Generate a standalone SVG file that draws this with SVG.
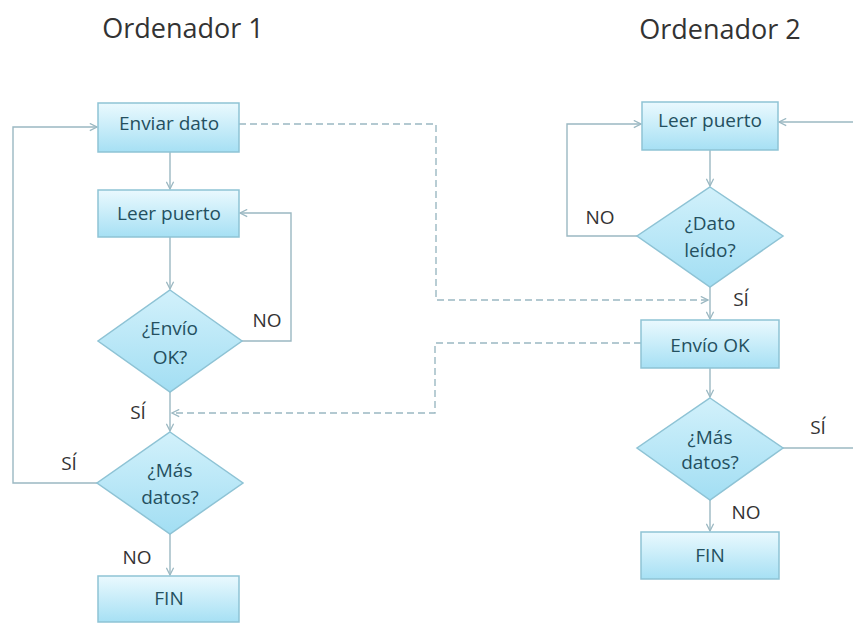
<svg xmlns="http://www.w3.org/2000/svg" width="853" height="624" viewBox="0 0 853 624">
  <defs>
    <linearGradient id="boxFill" x1="0" y1="0" x2="0" y2="1">
      <stop offset="0" stop-color="#eaf9fe"/>
      <stop offset="1" stop-color="#a6e0f4"/>
    </linearGradient>
    <linearGradient id="diaFill" x1="0" y1="0" x2="0" y2="1">
      <stop offset="0" stop-color="#d2f1fb"/>
      <stop offset="1" stop-color="#a2def3"/>
    </linearGradient>
    <marker id="arrow" viewBox="0 0 10 10" refX="9" refY="5" markerWidth="9" markerHeight="9" markerUnits="userSpaceOnUse" orient="auto">
      <polyline points="1,1 9,5 1,9" fill="none" stroke="#9bb8c2" stroke-width="1.4"/>
    </marker>
  </defs>
  <style>
    .box { fill: url(#boxFill); stroke: #8ec3d5; stroke-width: 1.5; }
    .dia { fill: url(#diaFill); stroke: #8ec3d5; stroke-width: 1.5; }
    .txt { font-family: "Open Sans", "Liberation Sans", sans-serif; font-size: 19px; fill: #24505f; text-anchor: middle; }
    .lbl { font-family: "Open Sans", "Liberation Sans", sans-serif; font-size: 19px; fill: #333333; text-anchor: middle; }
    .title { font-family: "Open Sans", "Liberation Sans", sans-serif; font-size: 27px; fill: #333333; text-anchor: middle; }
    .line { fill: none; stroke: #9bb8c2; stroke-width: 1.4; }
    .dash { fill: none; stroke: #9bb8c2; stroke-width: 1.4; stroke-dasharray: 7 4; }
  </style>
  <rect width="853" height="624" fill="#ffffff"/>

  <text class="title" x="183" y="38">Ordenador 1</text>
  <text class="title" x="720" y="39">Ordenador 2</text>

  <!-- connectors -->
  <g id="connectors">
    <!-- computer 1 -->
    <path class="line" d="M170,152 V189" marker-end="url(#arrow)"/>
    <path class="line" d="M170,237 V289" marker-end="url(#arrow)"/>
    <path class="line" d="M242,341 H291 V213 H240" marker-end="url(#arrow)"/>
    <path class="line" d="M170,392 V431" marker-end="url(#arrow)"/>
    <path class="line" d="M97,483 H13 V127 H97" marker-end="url(#arrow)"/>
    <path class="line" d="M170,534 V575" marker-end="url(#arrow)"/>
    <!-- computer 2 -->
    <path class="line" d="M853,122 H779" marker-end="url(#arrow)"/>
    <path class="line" d="M710,150 V186" marker-end="url(#arrow)"/>
    <path class="line" d="M637,236 H567 V124 H641" marker-end="url(#arrow)"/>
    <path class="line" d="M710,287 V319" marker-end="url(#arrow)"/>
    <path class="line" d="M710,368 V397" marker-end="url(#arrow)"/>
    <path class="line" d="M783,448 H853"/>
    <path class="line" d="M710,500 V531" marker-end="url(#arrow)"/>
    <!-- messages between computers -->
    <path class="dash" d="M239,124 H436 V300 H708" marker-end="url(#arrow)"/>
    <path class="dash" d="M641,343 H435 V413 H172" marker-end="url(#arrow)"/>
  </g>

  <!-- computer 1 nodes -->
  <g id="enviar-dato">
    <rect class="box" x="98" y="103" width="141" height="49"/>
    <text class="txt" x="169" y="130">Enviar dato</text>
  </g>
  <g id="leer-puerto-1">
    <rect class="box" x="98" y="190" width="141" height="47"/>
    <text class="txt" x="169" y="220">Leer puerto</text>
  </g>
  <g id="envio-ok-check">
    <polygon class="dia" points="170,290 242,341 170,392 98,341"/>
    <text class="txt" x="170" y="335">¿Envío</text>
    <text class="txt" x="170" y="364">OK?</text>
  </g>
  <g id="mas-datos-1">
    <polygon class="dia" points="170,432 243,483 170,534 97,483"/>
    <text class="txt" x="170" y="477">¿Más</text>
    <text class="txt" x="170" y="504">datos?</text>
  </g>
  <g id="fin-1">
    <rect class="box" x="98" y="576" width="141" height="46"/>
    <text class="txt" x="169" y="605">FIN</text>
  </g>

  <!-- computer 2 nodes -->
  <g id="leer-puerto-2">
    <rect class="box" x="642" y="102" width="136" height="48"/>
    <text class="txt" x="710" y="127">Leer puerto</text>
  </g>
  <g id="dato-leido">
    <polygon class="dia" points="710,187 783,236 710,287 637,236"/>
    <text class="txt" x="710" y="230">¿Dato</text>
    <text class="txt" x="710" y="257">leído?</text>
  </g>
  <g id="envio-ok">
    <rect class="box" x="641" y="320" width="138" height="48"/>
    <text class="txt" x="710" y="352">Envío OK</text>
  </g>
  <g id="mas-datos-2">
    <polygon class="dia" points="710,398 783,448 710,500 637,448"/>
    <text class="txt" x="710" y="444">¿Más</text>
    <text class="txt" x="710" y="469">datos?</text>
  </g>
  <g id="fin-2">
    <rect class="box" x="641" y="532" width="138" height="47"/>
    <text class="txt" x="710" y="562">FIN</text>
  </g>

  <!-- branch labels -->
  <text class="lbl" x="267" y="327">NO</text>
  <text class="lbl" x="138" y="419">SÍ</text>
  <text class="lbl" x="69" y="470">SÍ</text>
  <text class="lbl" x="137" y="564">NO</text>
  <text class="lbl" x="600" y="224">NO</text>
  <text class="lbl" x="741" y="306">SÍ</text>
  <text class="lbl" x="818" y="434">SÍ</text>
  <text class="lbl" x="746" y="519">NO</text>
</svg>
